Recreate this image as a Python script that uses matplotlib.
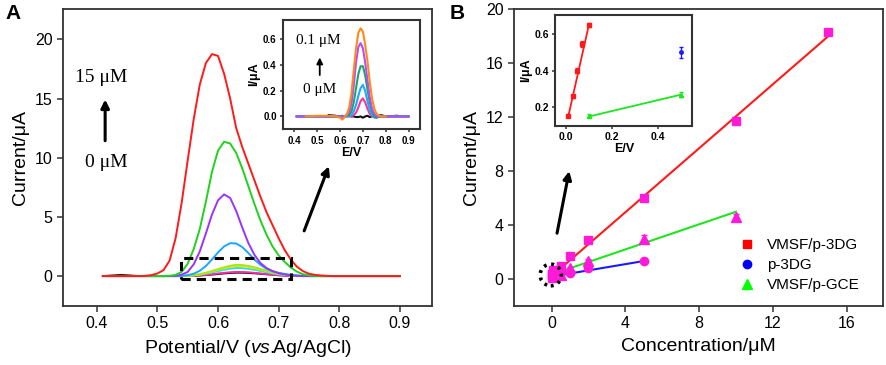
import numpy as np
import matplotlib
matplotlib.use("Agg")
import matplotlib.pyplot as plt
from matplotlib.patches import Rectangle, Ellipse
from matplotlib.lines import Line2D

plt.rcParams['font.family'] = ['Liberation Sans', 'DejaVu Sans']
plt.rcParams['mathtext.fontset'] = 'custom'
plt.rcParams['mathtext.it'] = 'Liberation Sans:italic'
plt.rcParams['mathtext.rm'] = 'Liberation Sans'

# ---------------- panel A: DPV curves ----------------
potential = [0.41, 0.44, 0.47, 0.48, 0.49, 0.50, 0.51, 0.52, 0.53, 0.54, 0.55, 0.56, 0.57,
             0.58, 0.59, 0.60, 0.61, 0.62, 0.63, 0.64, 0.65, 0.66, 0.67, 0.68, 0.69, 0.70,
             0.71, 0.72, 0.73, 0.74, 0.75, 0.76, 0.77, 0.78, 0.79, 0.80, 0.84, 0.90]

cur_black = [0, 0.1, 0, 0, 0, 0, 0, 0, 0, 0,
             0.01, 0.02, 0.05, 0.08, 0.12, 0.17, 0.22, 0.26, 0.28, 0.28, 0.26, 0.23, 0.19, 0.15,
             0.11, 0.07, 0.04, 0.02, 0.01, 0.0, 0, 0, 0, 0, 0, 0, 0, 0]
cur_magenta = [0, 0, 0, 0, 0, 0, 0, 0, 0, 0,
               0.01, 0.03, 0.06, 0.1, 0.16, 0.22, 0.27, 0.32, 0.35, 0.34, 0.32, 0.27, 0.22, 0.17,
               0.12, 0.08, 0.05, 0.02, 0.01, 0.0, 0, 0, 0, 0, 0, 0, 0, 0]
cur_cyan = [0, 0, 0, 0, 0, 0, 0, 0, 0, 0,
            0.02, 0.05, 0.12, 0.2, 0.31, 0.42, 0.53, 0.63, 0.68, 0.67, 0.61, 0.53, 0.43, 0.33,
            0.23, 0.15, 0.09, 0.05, 0.02, 0.01, 0, 0, 0, 0, 0, 0, 0, 0]
cur_yellow = [0, 0, 0, 0, 0, 0, 0, 0, 0, 0,
              0.03, 0.07, 0.14, 0.26, 0.38, 0.53, 0.66, 0.78, 0.85, 0.83, 0.77, 0.66, 0.54, 0.41,
              0.29, 0.19, 0.11, 0.06, 0.03, 0.01, 0, 0, 0, 0, 0, 0, 0, 0]
cur_ygreen = [0, 0, 0, 0, 0, 0, 0, 0, 0, 0,
              0.03, 0.08, 0.16, 0.28, 0.43, 0.59, 0.74, 0.87, 0.95, 0.93, 0.86, 0.74, 0.6, 0.46,
              0.32, 0.21, 0.12, 0.07, 0.03, 0.01, 0, 0, 0, 0, 0, 0, 0, 0]
cur_blue = [0, 0, 0, 0, 0, 0, 0, 0, 0, 0.02, 0.08, 0.2, 0.45, 0.85, 1.4, 2.0, 2.5, 2.78, 2.75,
            2.45, 1.95, 1.4, 0.95, 0.62, 0.4, 0.27, 0.18, 0.1, 0.05, 0.02, 0, 0, 0, 0, 0, 0, 0, 0]
cur_purple = [0, 0, 0, 0, 0, 0, 0, 0, 0.02, 0.12, 0.35, 1.0, 2.1, 3.6, 5.2, 6.4, 6.9, 6.6, 5.5,
              4.1, 2.8, 1.8, 1.1, 0.68, 0.42, 0.25, 0.13, 0.06, 0.02, 0, 0, 0, 0, 0, 0, 0, 0, 0]
cur_green = [0, 0, 0, 0, 0, 0, 0, 0.02, 0.1, 0.35, 1.05, 2.3, 4.0, 6.3, 8.8, 10.6, 11.35, 11.2,
             10.4, 9.1, 7.6, 6.1, 4.7, 3.5, 2.5, 1.75, 1.2, 0.72, 0.38, 0.16, 0.06, 0.01,
             0, 0, 0, 0, 0, 0]
cur_red = [0, 0, 0, 0.02, 0.08, 0.22, 0.5, 1.3, 3.2, 6.2, 9.8, 13.3, 16.2, 18.0, 18.75, 18.6,
           17.1, 15.0, 12.5, 10.9, 9.5, 8.1, 6.7, 5.4, 4.3, 3.2, 2.2, 1.4, 0.8, 0.42, 0.2, 0.1,
           0.05, 0.02, 0, 0, 0, 0]

# inset of panel A (low concentrations)
inset_e = [0.41, 0.45, 0.50, 0.55, 0.58, 0.60, 0.61, 0.62, 0.63, 0.64, 0.65, 0.66, 0.67, 0.68,
           0.69, 0.70, 0.71, 0.72, 0.73, 0.74, 0.75, 0.76, 0.77, 0.78, 0.79, 0.80, 0.85, 0.90]
nan = np.nan
in_black = [nan, nan, nan, 0.01, 0.005, 0.0, 0.005, 0.0, 0.01, 0.005, 0.0, 0.0, -0.005, -0.005,
            0.0, -0.01, 0.0, 0.005, -0.005, 0.0, 0.005, 0.0, 0.005, 0.01, 0.005, 0.0, 0.005, nan]
in_magenta = [0, 0, 0, 0, 0, 0, 0, 0, 0, 0, 0, 0.01, 0.03, 0.07, 0.12, 0.14, 0.11, 0.06, 0.02,
              0.0, 0, 0, 0, 0, 0, 0, 0, 0]
in_blue = [0, 0, 0, 0, 0, 0, 0, 0, 0, 0, 0.01, 0.04, 0.09, 0.16, 0.22, 0.245, 0.2, 0.12, 0.05,
           0.01, -0.01, -0.01, 0, 0.005, 0, 0, 0, 0]
in_green = [0, 0, 0, 0, 0, 0, 0, 0, 0.005, 0.01, 0.04, 0.11, 0.22, 0.33, 0.39, 0.39, 0.32, 0.21,
            0.11, 0.04, 0.0, -0.01, 0, 0, 0, 0, 0, 0]
in_purple = [0, 0, 0, 0, 0, 0, 0, 0, 0.01, 0.03, 0.1, 0.24, 0.42, 0.54, 0.57, 0.53, 0.42, 0.28,
             0.15, 0.06, 0.02, 0, 0, 0, 0, 0, 0, 0]
in_orange = [nan, 0, 0.005, 0.005, 0.0, -0.01, -0.025, -0.005, 0.02, 0.07, 0.18, 0.36, 0.53, 0.65,
             0.685, 0.66, 0.56, 0.43, 0.27, 0.14, 0.06, 0.02, 0.005, 0, 0, 0, nan, nan]

# ---------------- panel B: calibration ----------------
conc_red = [0.01, 0.03, 0.05, 0.07, 0.1, 0.5, 1, 2, 5, 10, 15]
i_red = [0.155, 0.26, 0.40, 0.545, 0.65, 0.97, 1.68, 2.91, 6.03, 11.71, 18.33]
err_red = [0.01, 0.01, 0.012, 0.015, 0.01, 0.1, 0.1, 0.12, 0.15, 0.2, 0.15]
conc_blue = [0.5, 1, 2, 5]
i_blue = [0.5, 0.45, 0.79, 1.3]
err_blue = [0.03, 0.1, 0.12, 0.1]
conc_green = [0.1, 0.5, 1, 2, 5, 10]
i_green = [0.155, 0.27, 0.8, 1.3, 3.0, 4.6]
err_green = [0.01, 0.012, 0.1, 0.15, 0.25, 0.2]

# fitted lines (slope, intercept, x range)
fit_red = (1.185, 0.2, 0, 15)
fit_blue = (0.23, 0.18, 0.1, 5)
fit_green = (0.465, 0.33, 0, 10)
fit_red_in = (5.6, 0.09, 0.01, 0.1)
fit_green_in = (0.3, 0.12, 0.1, 0.5)

fig = plt.figure(figsize=(8.86, 3.65), dpi=100)

spine_col = '#333333'


def style(ax, lw=1.3):
    for s in ax.spines.values():
        s.set_linewidth(lw)
        s.set_color(spine_col)
    ax.tick_params(direction='out', length=4, width=1.1, colors=spine_col, labelcolor='black')


# ---- A main ----
axA = fig.add_axes([0.071, 0.1616, 0.4165, 0.8137])
series_a = [(cur_black, '#222222'), (cur_magenta, '#ff2aa8'), (cur_cyan, '#1fe6e6'),
            (cur_yellow, '#e6e600'), (cur_ygreen, '#a8e61a'), (cur_blue, '#1aa6ff'),
            (cur_purple, '#9933ff'), (cur_green, '#1ed21e'), (cur_red, '#ff1a1a')]
for y, c in series_a:
    axA.plot(potential, y, color=c, lw=1.4, solid_joinstyle='round')
axA.set_xlim(0.344, 0.953)
axA.set_ylim(-2.53, 22.56)
axA.set_xticks([0.4, 0.5, 0.6, 0.7, 0.8, 0.9])
axA.set_yticks([0, 5, 10, 15, 20])
axA.set_xticklabels(['0.4', '0.5', '0.6', '0.7', '0.8', '0.9'])
axA.tick_params(labelsize=11.5)
style(axA)
axA.set_xlabel(r'Potential/V ($\it{vs.}\!\!$Ag/AgCl)', fontsize=14, labelpad=5)
axA.set_ylabel('Current/μA', fontsize=14, labelpad=4)
axA.add_patch(Rectangle((0.5386, -0.28), 0.1814, 1.83, fill=False, ls=(0, (3, 2)),
                        lw=2.2, ec='black', zorder=5))
axA.annotate('', xy=(0.4137, 15.15), xytext=(0.4137, 11.2),
             arrowprops=dict(arrowstyle='-|>', color='black', lw=2.2, mutation_scale=12))
axA.text(0.408, 16.8, '15 μM', family=['Liberation Serif'], fontsize=14,
         ha='center', va='center')
axA.text(0.416, 9.6, '0 μM', family=['Liberation Serif'], fontsize=14,
         ha='center', va='center')
axA.annotate('', xy=(0.7845, 9.5), xytext=(0.7405, 3.6),
             arrowprops=dict(arrowstyle='-|>', color='black', lw=2.2, mutation_scale=12))

# ---- A inset ----
axAi = fig.add_axes([0.3194, 0.6458, 0.1546, 0.2995])
series_ai = [(in_black, '#111111'), (in_magenta, '#ff3399'), (in_blue, '#1aaaff'),
             (in_green, '#1aa860'), (in_purple, '#b44dff'), (in_orange, '#ff8a1a')]
for y, c in series_ai:
    axAi.plot(inset_e, y, color=c, lw=1.5)
axAi.set_xlim(0.35, 0.95)
axAi.set_ylim(-0.1, 0.75)
axAi.set_xticks([0.4, 0.5, 0.6, 0.7, 0.8, 0.9])
axAi.set_xticklabels(['0.4', '0.5', '0.6', '0.7', '0.8', '0.9'])
axAi.set_yticks([0.0, 0.2, 0.4, 0.6])
axAi.set_yticklabels(['0.0', '0.2', '0.4', '0.6'])
style(axAi, lw=1.5)
axAi.tick_params(labelsize=7, length=2.5, pad=2)
for lab in axAi.get_xticklabels() + axAi.get_yticklabels():
    lab.set_fontweight('bold')
axAi.set_xlabel('E/V', fontsize=9, fontweight='bold', labelpad=1)
axAi.set_ylabel('I/μA', fontsize=9, fontweight='bold', labelpad=2)
axAi.text(0.505, 0.589, '0.1 μM', family=['Liberation Serif'], fontsize=11,
          ha='center', va='center')
axAi.text(0.51, 0.212, '0 μM', family=['Liberation Serif'], fontsize=11,
          ha='center', va='center')
axAi.annotate('', xy=(0.511, 0.48), xytext=(0.511, 0.30),
              arrowprops=dict(arrowstyle='-|>', color='black', lw=1.3, mutation_scale=9))

# ---- B main ----
axB = fig.add_axes([0.580, 0.1616, 0.4165, 0.8137])
for (k, b, x0, x1), c in [(fit_red, '#ff1a1a'), (fit_green, '#1ee61e'), (fit_blue, '#1a1aff')]:
    xs = np.array([x0, x1])
    axB.plot(xs, k * xs + b, color=c, lw=1.5, zorder=2)
mag = '#ff1ad9'
axB.errorbar(conc_red, i_red, yerr=err_red, fmt='s', ms=6, color=mag, mec=mag,
             elinewidth=1.2, capsize=2.5, zorder=3)
axB.errorbar(conc_blue, i_blue, yerr=err_blue, fmt='o', ms=6, color=mag, mec=mag,
             elinewidth=1.2, capsize=2.5, zorder=3)
axB.errorbar(conc_green, i_green, yerr=err_green, fmt='^', ms=6.5, color=mag, mec=mag,
             elinewidth=1.2, capsize=2.5, zorder=3)
axB.set_xlim(-2.04, 17.97)
axB.set_ylim(-2, 20)
axB.set_xticks([0, 4, 8, 12, 16])
axB.set_yticks([0, 4, 8, 12, 16, 20])
axB.tick_params(labelsize=11.5)
style(axB)
axB.set_xlabel('Concentration/μM', fontsize=14, labelpad=5)
axB.set_ylabel('Current/μA', fontsize=14, labelpad=4)
axB.add_patch(Ellipse((-0.04, 0.3), 1.15, 1.6, fill=False, ls=(0, (0.8, 1.3)), lw=2.6,
                      ec='black', zorder=5))
axB.annotate('', xy=(0.99, 8.2), xytext=(0.27, 3.19),
             arrowprops=dict(arrowstyle='-|>', color='black', lw=2.2, mutation_scale=12))
handles = [Line2D([], [], ls='none', marker='s', color='#ff0000', ms=6),
           Line2D([], [], ls='none', marker='o', color='#0000ff', ms=6),
           Line2D([], [], ls='none', marker='^', color='#00ff00', ms=7)]
axB.legend(handles, ['VMSF/p-3DG', 'p-3DG', 'VMSF/p-GCE'], loc='lower right',
           bbox_to_anchor=(0.975, 0.0), frameon=False, fontsize=11, handletextpad=0.7,
           labelspacing=0.4, handlelength=1.2)

# ---- B inset ----
axBi = fig.add_axes([0.6268, 0.6556, 0.1546, 0.3025])
for (k, b, x0, x1), c in [(fit_red_in, '#ff1a1a'), (fit_green_in, '#1ee61e')]:
    xs = np.array([x0, x1])
    axBi.plot(xs, k * xs + b, color=c, lw=1.3)
n_low = 5
axBi.errorbar(conc_red[:n_low], i_red[:n_low], yerr=err_red[:n_low], fmt='s', ms=2.5,
              color='#ff1a1a', elinewidth=0.9, capsize=1.5)
axBi.errorbar(conc_blue[:1], i_blue[:1], yerr=err_blue[:1], fmt='o', ms=2.5,
              color='#1a1aff', elinewidth=0.9, capsize=1.5)
axBi.errorbar(conc_green[:2], i_green[:2], yerr=err_green[:2], fmt='^', ms=3,
              color='#1ee61e', elinewidth=0.9, capsize=1.5)
axBi.set_xlim(-0.045, 0.547)
axBi.set_ylim(0.1, 0.702)
axBi.set_xticks([0.0, 0.2, 0.4])
axBi.set_xticklabels(['0.0', '0.2', '0.4'])
axBi.set_yticks([0.2, 0.4, 0.6])
axBi.set_yticklabels(['0.2', '0.4', '0.6'])
style(axBi, lw=1.5)
axBi.tick_params(labelsize=7.5, length=2.5, pad=2)
for lab in axBi.get_xticklabels() + axBi.get_yticklabels():
    lab.set_fontweight('bold')
axBi.set_xlabel('E/V', fontsize=9, fontweight='bold', labelpad=1)
axBi.set_ylabel('I/μA', fontsize=9, fontweight='bold', labelpad=2)

fig.text(0.006, 0.962, 'A', fontsize=15, fontweight='bold', va='center')
fig.text(0.507, 0.962, 'B', fontsize=15, fontweight='bold', va='center')

fig.savefig('out.png', dpi=100)
